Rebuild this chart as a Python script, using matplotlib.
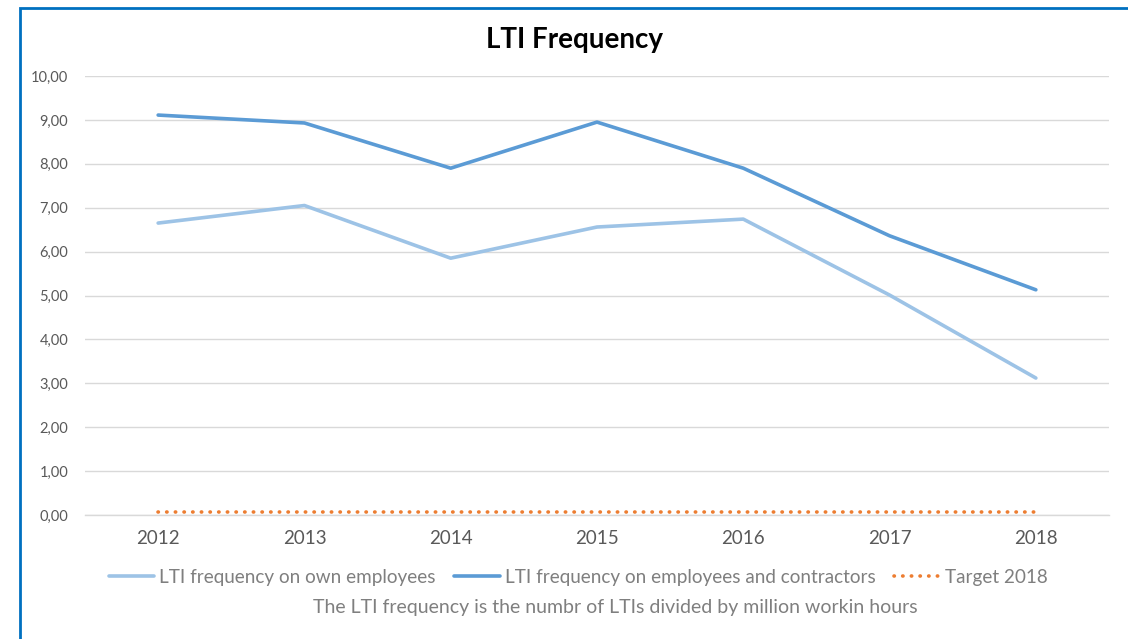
import matplotlib
matplotlib.use("Agg")
import matplotlib.pyplot as plt
from matplotlib.patches import Rectangle
from matplotlib.ticker import FixedLocator, FuncFormatter

years = ["2012", "2013", "2014", "2015", "2016", "2017", "2018"]
own_employees = [6.65, 7.05, 5.85, 6.56, 6.74, 5.01, 3.12]
employees_contractors = [9.11, 8.93, 7.90, 8.95, 7.90, 6.36, 5.13]
target_2018 = [0.06] * 7
yticks = [0, 1, 2, 3, 4, 5, 6, 7, 8, 9, 10]

plt.rcParams['font.family'] = ['Lato', 'DejaVu Sans']

fig = plt.figure(figsize=(11.28, 6.39), dpi=100)
W, H = 1128, 639
ax = fig.add_axes([85 / W, 1 - 515 / H, (1109 - 85) / W, (515 - 76) / H])

x = list(range(len(years)))
ax.plot(x, own_employees, color="#9DC3E6", lw=2.6, solid_capstyle="round",
        label="LTI frequency on own employees")
ax.plot(x, employees_contractors, color="#5B9BD5", lw=2.6, solid_capstyle="round",
        label="LTI frequency on employees and contractors")
ax.plot(x, target_2018, color="#ED7D31", lw=2.6, linestyle=(0, (0.1, 2.3)),
        dash_capstyle="round", label="Target 2018")

ax.set_xlim(-0.5, len(years) - 0.5)
ax.set_ylim(0, 10)
ax.yaxis.set_major_locator(FixedLocator(yticks))
ax.yaxis.set_major_formatter(FuncFormatter(lambda v, p: f"{v:.2f}".replace(".", ",")))
ax.set_xticks(x)
ax.set_xticklabels(years)
ax.grid(axis="y", color="#D9D9D9", lw=1.0)
ax.set_axisbelow(True)
for s in ["top", "right", "left"]:
    ax.spines[s].set_visible(False)
ax.spines["bottom"].set_color("#D9D9D9")
ax.spines["bottom"].set_linewidth(1.0)
ax.tick_params(axis="y", length=0, labelsize=10.5, labelcolor="#595959", pad=12)
ax.tick_params(axis="x", length=0, labelsize=13.5, labelcolor="#595959", pad=11)

fig.text(575 / W, 1 - 40 / H, "LTI Frequency", ha="center", va="center",
         fontsize=20, fontweight="bold", color="#000000")

leg = fig.legend(loc="center", bbox_to_anchor=(578 / W, 1 - 577 / H), ncol=3,
                 frameon=False, fontsize=13.6, handlelength=2.4, handletextpad=0.26,
                 columnspacing=1.0, labelcolor="#7F7F7F")

fig.text(615 / W, 1 - 608 / H,
         "The LTI frequency is the numbr of LTIs divided by million workin hours",
         ha="center", va="center", fontsize=14, color="#7F7F7F")

fig.patches.append(Rectangle((20 / W, -0.1), 1.2, 1 - 8 / H + 0.1,
                             transform=fig.transFigure, fill=False,
                             edgecolor="#0070C0", lw=2))

fig.savefig("out.png", dpi=100, facecolor="white")
